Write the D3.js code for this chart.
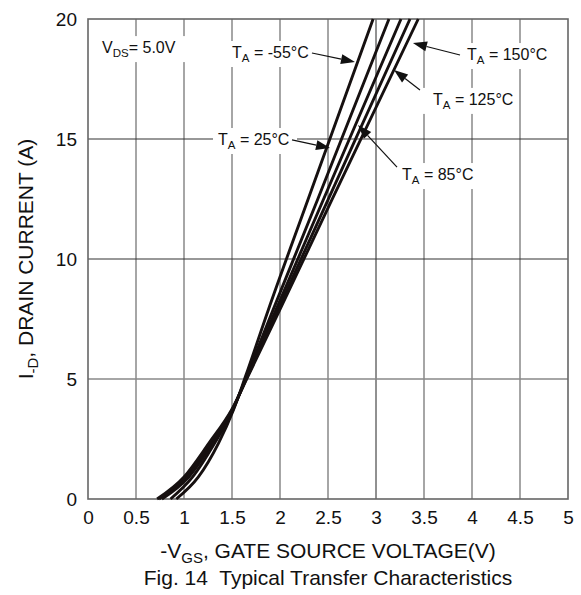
<!DOCTYPE html>
<html>
<head>
<meta charset="utf-8">
<script src="https://cdn.jsdelivr.net/npm/d3@7"></script>
<style>
  body { margin: 0; background: #fff; }
  svg text { font-family: Arial, "Liberation Sans", Helvetica, sans-serif; fill: #111; }
</style>
</head>
<body>
<svg id="chart" width="581" height="595"></svg>
<script>
// Axis ticks: -VGS in volts, ID in amps
const vgsTicks = [0, 0.5, 1, 1.5, 2, 2.5, 3, 3.5, 4, 4.5, 5];
const idTicks = [0, 5, 10, 15, 20];

// Drain current levels (A) shared by every curve
const idLevels = [0, 0.92, 2.33, 3.71, 5.1, 7.9, 12.46, 20];
// -VGS (V) needed for each current level, one array per ambient temperature
const vgsM55 = [0.92, 1.15, 1.36, 1.515, 1.64, 1.88, 2.29, 2.97];
const vgs25  = [0.86, 1.09, 1.32, 1.51, 1.65, 1.93, 2.39, 3.135];
const vgs85  = [0.77, 1.05, 1.30, 1.505, 1.655, 1.96, 2.45, 3.26];
const vgs125 = [0.74, 1.02, 1.28, 1.50, 1.66, 1.98, 2.50, 3.354];
const vgs150 = [0.72, 1.00, 1.26, 1.495, 1.665, 2.00, 2.54, 3.44];
const curveSets = [vgsM55, vgs25, vgs85, vgs125, vgs150];

// Temperature callouts: text anchor, leader start and arrow tip, in data units
const labelTemps = ["-55", "150", "125", "25", "85"];
const labelV = [1.5, 3.948, 3.594, 1.354, 3.271];
const labelI = [18.375, 18.29, 16.42, 14.75, 13.29];
const leaderV = [2.333, 3.875, 3.458, 2.125, 3.219];
const leaderI = [18.583, 18.5, 17.04, 14.96, 13.83];
const tipV = [2.781, 3.385, 3.1875, 2.521, 2.8125];
const tipI = [18.208, 19.0, 17.875, 14.625, 15.58];
const vdsLabel = { v: 0.146, i: 18.58 };

const svg = d3.select("#chart");
const x = d3.scaleLinear().domain([0, 5]).range([88, 568]);
const y = d3.scaleLinear().domain([0, 20]).range([499, 19]);

// Grid
const grid = svg.append("g");
grid.selectAll("line.v").data(vgsTicks.slice(1, -1)).join("line")
  .attr("x1", d => x(d)).attr("x2", d => x(d))
  .attr("y1", y(0)).attr("y2", y(20))
  .attr("stroke", d => d === 3 ? "#222" : "#888")
  .attr("stroke-width", d => d === 3 ? 1 : 1.5);
grid.selectAll("line.h").data(idTicks.slice(1, -1)).join("line")
  .attr("x1", x(0)).attr("x2", x(5))
  .attr("y1", d => y(d)).attr("y2", d => y(d))
  .attr("stroke", d => d === 5 ? "#888" : "#333")
  .attr("stroke-width", d => d === 5 ? 1.5 : 1.2);

// Frame
svg.append("rect")
  .attr("x", x(0)).attr("y", y(20))
  .attr("width", x(5) - x(0)).attr("height", y(0) - y(20))
  .attr("fill", "none").attr("stroke", "#666").attr("stroke-width", 1.6);

// Axes (labels only)
const xAxis = svg.append("g").attr("transform", `translate(0,${y(0)})`)
  .call(d3.axisBottom(x).tickValues(vgsTicks).tickSize(0).tickPadding(12)
    .tickFormat(d3.format("~g")));
const yAxis = svg.append("g").attr("transform", `translate(${x(0)},0)`)
  .call(d3.axisLeft(y).tickValues(idTicks).tickSize(0).tickPadding(11)
    .tickFormat(d3.format("~g")));
[xAxis, yAxis].forEach(a => {
  a.select(".domain").remove();
  a.selectAll("text").attr("font-size", 19).attr("fill", "#111")
    .style("font-family", "Arial, 'Liberation Sans', sans-serif");
});
xAxis.selectAll("text").attr("dy", "0.71em");

// Callout boxes and text
const notes = svg.append("g");
function addLabel(g, v, i, main, sub, rest, fs) {
  const t = g.append("text").attr("x", x(v)).attr("y", y(i)).attr("font-size", fs);
  t.append("tspan").text(main);
  t.append("tspan").attr("font-size", fs * 0.72).attr("dy", 4).text(sub);
  t.append("tspan").attr("dy", -4).text(rest);
  return t;
}
function boxBehind(g, t, extra) {
  const b = t.node().getBBox();
  const x0 = Math.min(b.x, extra ? extra[0] : b.x) - 5;
  const x1 = Math.max(b.x + b.width, extra ? extra[0] : 0) + 5;
  g.insert("rect", ":first-child")
    .attr("x", x0).attr("y", b.y - 3)
    .attr("width", x1 - x0).attr("height", b.height + 6)
    .attr("fill", "#fff");
}

const vt = addLabel(notes, vdsLabel.v, vdsLabel.i, "V", "DS", "= 5.0V", 16);
boxBehind(notes, vt, [x(1.05)]);

labelTemps.forEach((tp, k) => {
  const t = addLabel(notes, labelV[k], labelI[k], "T", "A", ` = ${tp}\u00B0C`, 16);
  boxBehind(notes, t, [x(leaderV[k])]);
});

// Transfer curves
const line = d3.line()
  .x(d => x(d[0])).y(d => y(d[1]))
  .curve(d3.curveMonotoneX);
svg.append("g").selectAll("path").data(curveSets).join("path")
  .attr("d", vs => line(vs.map((v, k) => [v, idLevels[k]])))
  .attr("fill", "none").attr("stroke", "#161010")
  .attr("stroke-width", 2.9).attr("stroke-linejoin", "round");

// Leader lines with filled arrowheads
const arrows = svg.append("g");
labelTemps.forEach((tp, k) => {
  const x0 = x(leaderV[k]), y0 = y(leaderI[k]);
  const x1 = x(tipV[k]), y1 = y(tipI[k]);
  const ang = Math.atan2(y1 - y0, x1 - x0);
  const len = 14, hw = 5;
  const bx = x1 - len * Math.cos(ang), by = y1 - len * Math.sin(ang);
  arrows.append("line")
    .attr("x1", x0).attr("y1", y0).attr("x2", bx).attr("y2", by)
    .attr("stroke", "#111").attr("stroke-width", 1.2);
  const px = -Math.sin(ang) * hw, py = Math.cos(ang) * hw;
  arrows.append("path")
    .attr("d", `M${x1},${y1}L${bx + px},${by + py}L${bx - px},${by - py}Z`)
    .attr("fill", "#111");
});

// Axis titles and caption
const yt = svg.append("text")
  .attr("transform", `translate(33,${(y(0) + y(20)) / 2}) rotate(-90)`)
  .attr("text-anchor", "middle").attr("font-size", 21);
yt.append("tspan").text("I");
yt.append("tspan").attr("font-size", 15).attr("dy", 5).text("-D");
yt.append("tspan").attr("dy", -5).text(", DRAIN CURRENT (A)");

const xt = svg.append("text")
  .attr("x", (x(0) + x(5)) / 2).attr("y", 558)
  .attr("text-anchor", "middle").attr("font-size", 21);
xt.append("tspan").text("-V");
xt.append("tspan").attr("font-size", 15).attr("dy", 5).text("GS");
xt.append("tspan").attr("dy", -5).text(", GATE SOURCE VOLTAGE(V)");

svg.append("text")
  .attr("x", (x(0) + x(5)) / 2).attr("y", 585)
  .attr("text-anchor", "middle").attr("font-size", 21)
  .attr("xml:space", "preserve")
  .text("Fig. 14  Typical Transfer Characteristics");
</script>
</body>
</html>
